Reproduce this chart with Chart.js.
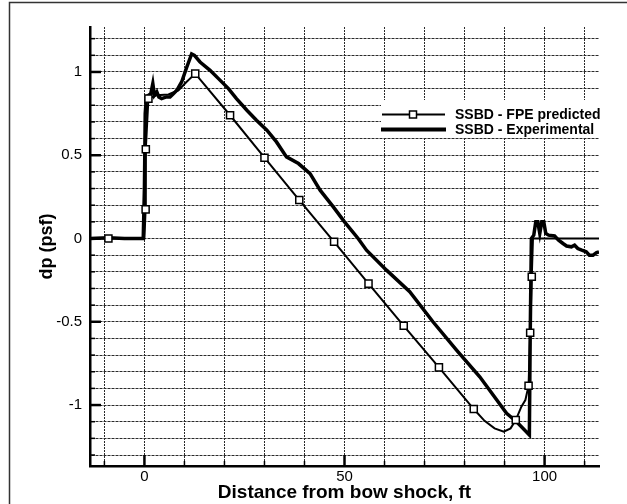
<!DOCTYPE html>
<html>
<head>
<meta charset="utf-8">
<script src="https://cdn.jsdelivr.net/npm/chart.js@4.4.1/dist/chart.umd.min.js"></script>
<style>
html, body { margin: 0; padding: 0; background: #fff; overflow: hidden; }
#wrap { position: relative; width: 627px; height: 504px; }
</style>
</head>
<body>
<div id="wrap"><canvas id="myChart"></canvas></div>
<script>

// SSBD - FPE predicted (thin line, square markers)
const predX = [-13.6, -9.0, 0.0, 0.3, 0.35, 1.0, 3.0, 6.0, 8.5, 10.5, 12.7, 21.4, 30.0, 38.7, 47.4, 56.0, 64.8, 73.6, 82.3,
	85.0, 87.5, 89.8, 91.5, 92.8, 94.2, 95.2, 96.0, 96.4, 96.8, 97.1, 105.0, 113.6];
const predY = [0, 0, 0, 0.175, 0.536, 0.84, 0.86, 0.865, 0.89, 0.94, 0.99, 0.74, 0.485, 0.231, -0.02, -0.271, -0.524, -0.774, -1.024,
	-1.095, -1.14, -1.16, -1.14, -1.09, -1.01, -0.97, -0.884, -0.566, -0.23, 0.0, 0.0, 0.0];
// which points of the predicted curve carry a marker
const predMarkerIdx = [1, 3, 4, 5, 10, 11, 12, 13, 14, 15, 16, 17, 18, 23, 26, 27, 28];

// SSBD - Experimental (thick line)
const expX = [-13.6, -9, -5, -0.3, 0.0, 0.2, 0.5, 1.0, 1.6, 2.1, 2.5, 3.1, 3.6, 4.3, 5.5, 6.4, 7.3, 8.1, 9.3, 10.6, 11.8, 12.5,
	13.9, 16.4, 18.5, 21.0, 23.0, 25.6, 28.0, 30.6, 33.0, 35.5, 38.5, 41.4, 43.9, 47.2, 50.0, 53.4, 55.5, 60.5, 66.3, 72.1,
	78.0, 83.8, 90.5, 93.0, 96.2, 96.4, 96.7, 97.3, 97.8, 98.3, 98.8, 99.3, 99.8, 100.3, 101.0, 102.5, 103.5, 104.6, 105.5,
	106.7, 107.5, 108.3, 109.3, 110.4, 111.2, 112.1, 113.0, 113.6];
const expY = [0, 0.005, 0, 0, 0.3, 0.75, 0.85, 0.86, 0.87, 0.93, 0.86, 0.88, 0.85, 0.84, 0.85, 0.85, 0.87, 0.89, 0.94, 1.03, 1.108, 1.10,
	1.06, 1.01, 0.96, 0.90, 0.84, 0.77, 0.71, 0.65, 0.58, 0.49, 0.45, 0.39, 0.29, 0.19, 0.10, 0.0, -0.07, -0.19, -0.32, -0.50,
	-0.67, -0.83, -1.05, -1.10, -1.18, -0.6, 0.0, 0.02, 0.10, 0.10, 0.03, 0.10, 0.10, 0.03, 0.02, 0.015, -0.01, -0.03, -0.045,
	-0.05, -0.04, -0.06, -0.07, -0.08, -0.10, -0.10, -0.085, -0.08];

// axes
const xTicks = [-10, 0, 10, 20, 30, 40, 50, 60, 70, 80, 90, 100, 110];
const xMajor = [0, 50, 100];
const xLabels = ['0', '50', '100'];
const yTicks = [-1.3, -1.2, -1.1, -1.0, -0.9, -0.8, -0.7, -0.6, -0.5, -0.4, -0.3, -0.2, -0.1, 0,
	0.1, 0.2, 0.3, 0.4, 0.5, 0.6, 0.7, 0.8, 0.9, 1.0, 1.1, 1.2];
const yMajor = [-1, -0.5, 0, 0.5, 1];
const yLabels = ['-1', '-0.5', '0', '0.5', '1'];

const labelFor = (v, major, labels) => {
	const i = major.findIndex(m => Math.abs(m - v) < 1e-9);
	return i < 0 ? '' : labels[i];
};

Chart.defaults.font.family = "'Liberation Sans', Arial, sans-serif";
Chart.defaults.color = '#000';

// outer frame of the figure
const frame = {
	id: 'frame',
	beforeDraw(chart) {
		const ctx = chart.ctx;
		ctx.save();
		ctx.strokeStyle = '#333';
		ctx.lineWidth = 1.5;
		ctx.strokeRect(9.5, 2.5, 700, 600);
		ctx.restore();
	}
};

// tick marks pointing into the plot
const inTicks = {
	id: 'inTicks',
	afterDatasetsDraw(chart) {
		const {ctx, chartArea: a, scales: {x, y}} = chart;
		ctx.save();
		ctx.strokeStyle = '#000';
		y.ticks.forEach(t => {
			const py = y.getPixelForValue(t.value);
			const major = labelFor(t.value, yMajor, yLabels) !== '';
			ctx.lineWidth = major ? 2.5 : 1.5;
			ctx.beginPath();
			ctx.moveTo(a.left, py);
			ctx.lineTo(a.left + (major ? 11 : 5), py);
			ctx.stroke();
		});
		x.ticks.forEach(t => {
			const px = x.getPixelForValue(t.value);
			const major = labelFor(t.value, xMajor, xLabels) !== '';
			ctx.lineWidth = major ? 2.5 : 1.5;
			ctx.beginPath();
			ctx.moveTo(px, a.bottom);
			ctx.lineTo(px, a.bottom - (major ? 11 : 5));
			ctx.stroke();
		});
		ctx.restore();
	}
};

// legend box inside the plot, covering the grid
const boxLegend = {
	id: 'boxLegend',
	beforeDatasetsDraw(chart) {
		const ctx = chart.ctx;
		const ds = chart.data.datasets;
		ctx.save();
		ctx.fillStyle = '#fff';
		ctx.fillRect(381, 100, 219, 38);
		ctx.strokeStyle = '#000';
		// predicted
		ctx.lineWidth = 2;
		ctx.beginPath(); ctx.moveTo(382, 114.5); ctx.lineTo(445, 114.5); ctx.stroke();
		ctx.lineWidth = 1.5;
		ctx.fillStyle = '#fff';
		ctx.fillRect(409.5, 111, 7, 7);
		ctx.strokeRect(409.5, 111, 7, 7);
		// experimental
		ctx.lineWidth = 4;
		ctx.beginPath(); ctx.moveTo(381, 129.5); ctx.lineTo(446, 129.5); ctx.stroke();
		ctx.fillStyle = '#000';
		ctx.font = "bold 14px 'Liberation Sans', Arial, sans-serif";
		ctx.textBaseline = 'middle';
		ctx.fillText(ds[0].label, 455, 115);
		ctx.fillText(ds[1].label, 455, 130);
		ctx.restore();
	}
};

const predData = predX.map((v, i) => ({x: v, y: predY[i]}));
const expData = expX.map((v, i) => ({x: v, y: expY[i]}));

const config = {
	type: 'line',
	data: {
		datasets: [{
			label: 'SSBD - FPE predicted',
			data: predData,
			borderColor: '#000',
			borderWidth: 2,
			tension: 0,
			pointStyle: 'rect',
			pointRadius: ctx => predMarkerIdx.includes(ctx.dataIndex) ? 5 : 0,
			pointBackgroundColor: '#fff',
			pointBorderColor: '#000',
			pointBorderWidth: 1.5
		}, {
			label: 'SSBD - Experimental',
			data: expData,
			borderColor: '#000',
			borderWidth: 3.5,
			tension: 0,
			pointRadius: 0
		}]
	},
	options: {
		responsive: true,
		maintainAspectRatio: false,
		animation: false,
		layout: { padding: { top: 27, right: 28, left: 0, bottom: 0 } },
		plugins: {
			legend: { display: false },
			tooltip: { enabled: false }
		},
		scales: {
			x: {
				type: 'linear',
				min: -13.6,
				max: 113.6,
				afterBuildTicks: s => { s.ticks = xTicks.map(v => ({value: v})); },
				afterFit: s => { s.height = 38; },
				grid: { color: '#2a2a2a', lineWidth: 1, drawTicks: false },
				border: { display: true, color: '#000', width: 2.5, dash: [2, 1] },
				ticks: {
					color: '#000', font: { size: 15 }, padding: 2, maxRotation: 0, autoSkip: false,
					callback: v => labelFor(v, xMajor, xLabels)
				},
				title: {
					display: true, text: 'Distance from bow shock, ft', color: '#000',
					font: { size: 19, weight: 'bold' }, padding: { top: 0, bottom: 0 }
				}
			},
			y: {
				type: 'linear',
				min: -1.366,
				max: 1.27,
				afterBuildTicks: s => { s.ticks = yTicks.map(v => ({value: v})); },
				afterFit: s => { s.width = 90; },
				grid: { color: '#2a2a2a', lineWidth: 1, drawTicks: false },
				border: { display: true, color: '#000', width: 2.5, dash: [3, 1] },
				ticks: {
					color: '#000', font: { size: 15 }, padding: 8, autoSkip: false,
					callback: v => labelFor(v, yMajor, yLabels)
				},
				title: {
					display: true, text: 'dp (psf)', color: '#000',
					font: { size: 18, weight: 'bold' }, padding: { top: 36, bottom: 0 }
				}
			}
		}
	},
	plugins: [frame, inTicks, boxLegend]
};

const myChart = new Chart(document.getElementById('myChart'), config);
</script>
</body>
</html>
